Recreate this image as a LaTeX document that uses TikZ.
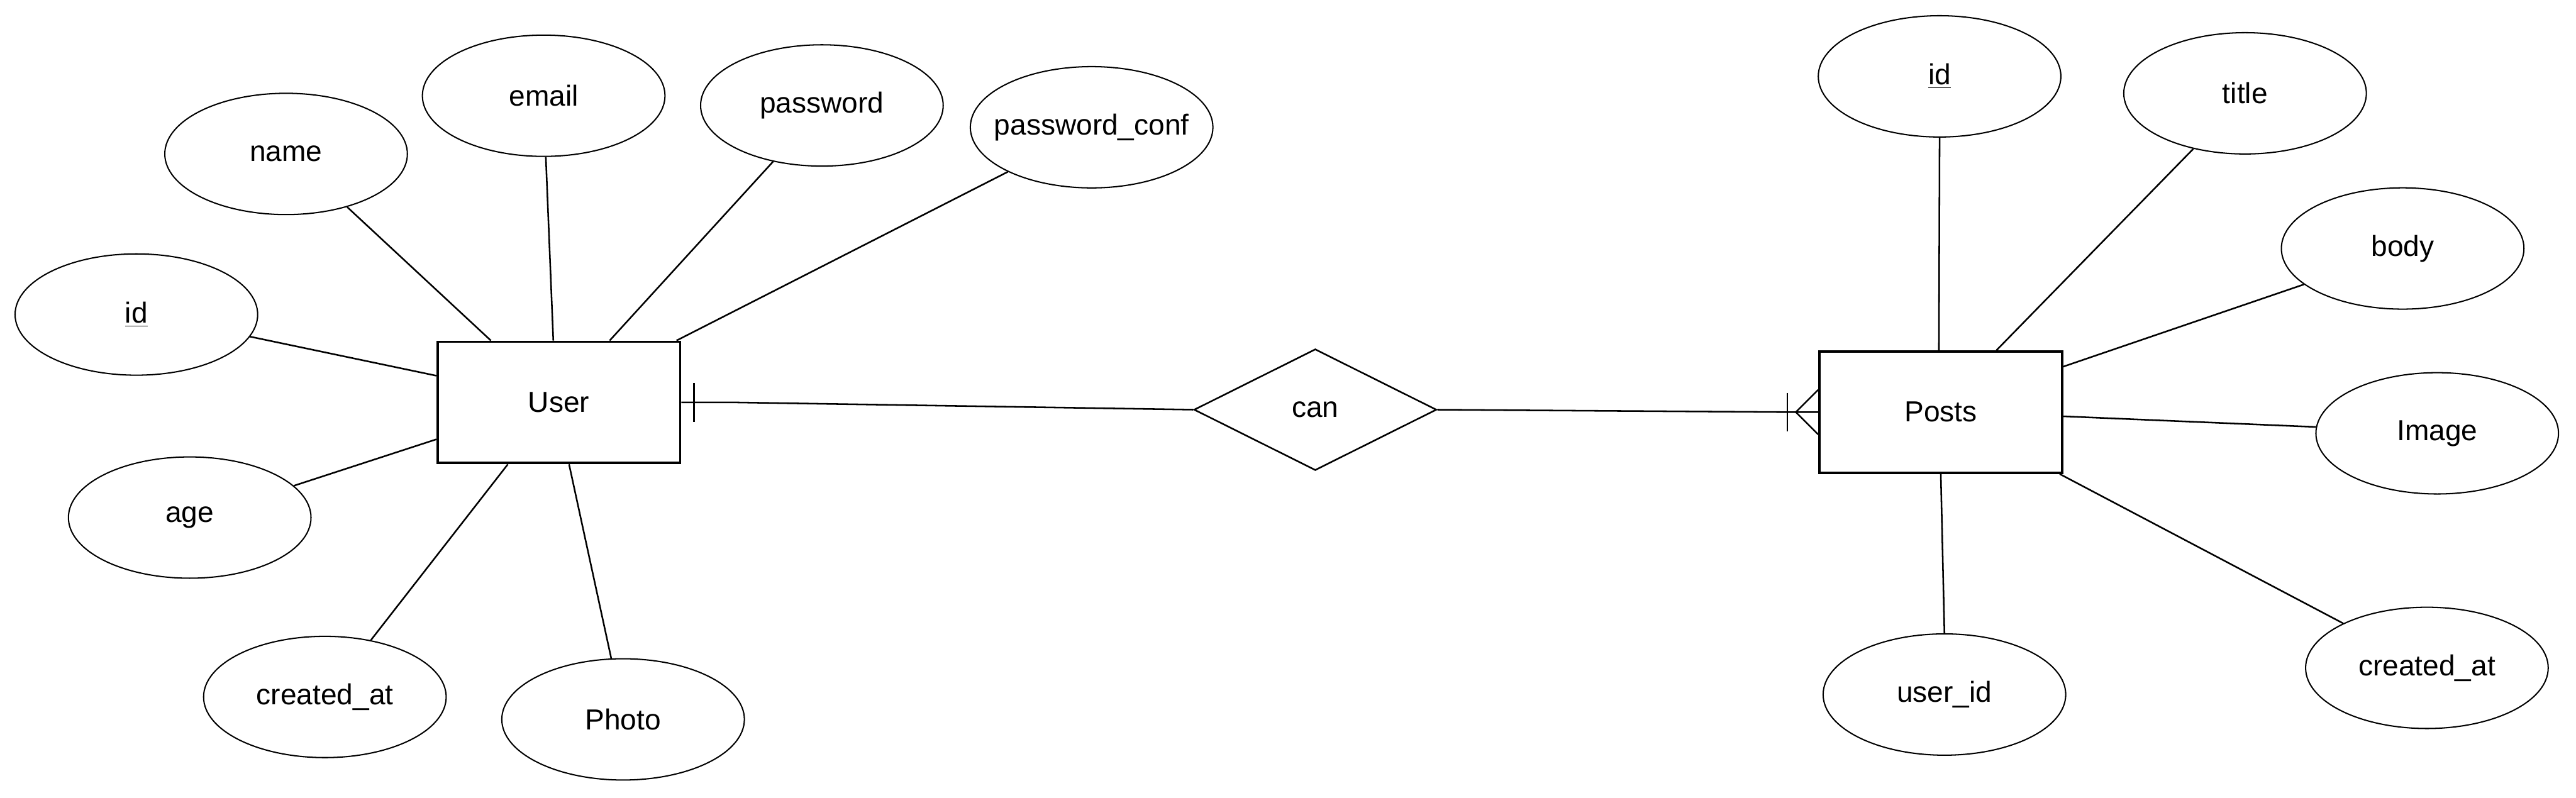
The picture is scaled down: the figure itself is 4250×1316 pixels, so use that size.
\documentclass[tikz,border=0pt]{standalone}
\usepackage{fontspec}
\setmainfont{Liberation Sans}
\usetikzlibrary{shapes.geometric,calc}
\begin{document}
\begin{tikzpicture}[x=0.01cm,y=-0.01cm,
  every node/.style={font=\fontsize{13.6pt}{16pt}\selectfont},
  attr/.style={draw,ellipse,line width=0.6pt,minimum width=4cm,minimum height=2cm,inner sep=0pt},
  entity/.style={draw,rectangle,line width=1.15pt,minimum width=4cm,minimum height=2cm,inner sep=0pt},
  rel/.style={draw,diamond,aspect=2,line width=0.75pt,minimum width=4cm,minimum height=2cm,inner sep=0pt},
  link/.style={line width=0.75pt}]
\fill[white] (0,0) rectangle (4250,1316);
\useasboundingbox (0,0) rectangle (4250,1316);

% entities and relation
\node[entity] (User) at (922,664) {User};
\node[entity] (Posts) at (3202,680) {Posts};
\node[rel] (can) at (2170,676) {can};

% user attributes
\node[attr] (uname) at (472,254) {name};
\node[attr] (uemail) at (897,158) {email};
\node[attr] (upass) at (1356,174) {password};
\node[attr] (upconf) at (1801,210) {\makebox[0pt][c]{password\_conf}};
\node[attr] (uid) at (225,519) {\underline{id}};
\node[attr] (uage) at (313,854) {age};
\node[attr] (ucreated) at (536,1150) {created\_at};
\node[attr] (uphoto) at (1028,1187) {Photo};

% post attributes
\node[attr] (pid) at (3200,126) {\underline{id}};
\node[attr] (ptitle) at (3704,154) {title};
\node[attr] (pbody) at (3964,410) {body};
\node[attr] (pimage) at (4021,715) {Image};
\node[attr] (pcreated) at (4004,1102) {created\_at};
\node[attr] (puserid) at (3208,1146) {user\_id};

% user connectors
\draw[link] (uname.-41.3) -- ($(User.north west)+(90,0)$);
\draw[link] (uemail.-88) -- ($(User.north west)+(193,0)$);
\draw[link] (upass.-131.1) -- ($(User.north west)+(286,0)$);
\draw[link] (upconf.-152.1) -- ($(User.north east)+(-8,0)$);
\draw[link] (uid.-11.3) -- ($(User.north west)+(0,58)$);
\draw[link] (uage.17.3) -- ($(User.north west)+(0,163)$);
\draw[link] (ucreated.51.1) -- ($(User.south west)+(118,0)$);
\draw[link] (uphoto.101.9) -- ($(User.south west)+(219,0)$);

% post connectors
\draw[link] (pid.-90) -- ($(Posts.north west)+(199,0)$);
\draw[link] (ptitle.-133.4) -- ($(Posts.north west)+(294,0)$);
\draw[link] (pbody.-160.5) -- ($(Posts.north east)+(0,27)$);
\draw[link] (pimage.177.7) -- ($(Posts.north east)+(0,109)$);
\draw[link] (pcreated.152.1) -- ($(Posts.south east)+(-6,0)$);
\draw[link] (puserid.90) -- (Posts.south);

% relationship User -- can (one)
\draw[link] (User.east) -- ++(90,0) -- (can.west);
\draw[link] ($(User.east)+(21,-32)$) -- ($(User.east)+(21,32)$);

% relationship can -- Posts (one or many)
\draw[link] (can.east) -- ($(Posts.west)+(-50,0)$) -- (Posts.west);
\draw[link] ($(Posts.west)+(-51,-32)$) -- ($(Posts.west)+(-51,32)$);
\draw[link] ($(Posts.west)+(0,-37)$) -- ($(Posts.west)+(-37,0)$) -- ($(Posts.west)+(0,37)$);
\end{tikzpicture}
\end{document}
